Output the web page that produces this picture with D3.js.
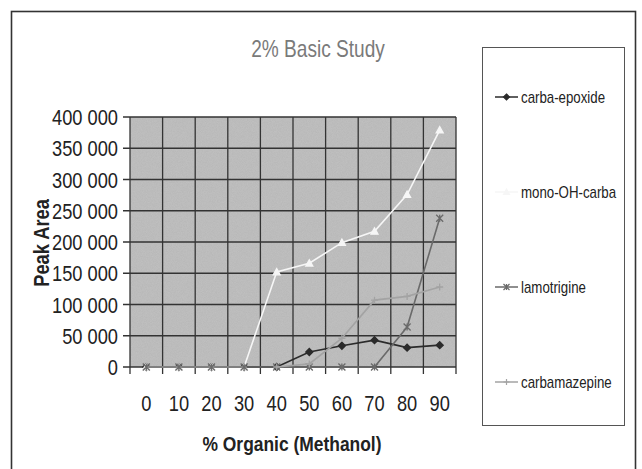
<!DOCTYPE html>
<html>
<head>
    <meta charset="utf-8">
    <title>2% Basic Study</title>
    <script src="https://cdn.jsdelivr.net/npm/d3@7"></script>
    <style>
        body {
            margin: 0;
            background: #fff;
        }

        text {
            font-family: "Liberation Sans", Arial, sans-serif;
        }
    </style>
</head>
<body>
    <div id="chart"></div>
    <script>
        // values
        const organic = ["0", "10", "20", "30", "40", "50", "60", "70", "80", "90"];
        const carbaEpoxide = [0, 0, 0, 0, 0, 24000, 34000, 43000, 31000, 35000];
        const monoOHCarba = [0, 0, 0, 0, 152000, 166000, 199000, 217000, 276000, 379000];
        const lamotrigine = [0, 0, 0, 0, 0, 0, 0, 0, 64000, 238000];
        const carbamazepine = [null, null, null, null, 0, 5000, 46000, 107000, 113000, 128000];
        const yTicks = [0, 50000, 100000, 150000, 200000, 250000, 300000, 350000, 400000];

        const seriesList = [
            { name: "carba-epoxide", values: carbaEpoxide, color: "#2b2b2b", marker: "diamond" },
            { name: "mono-OH-carba", values: monoOHCarba, color: "#f6f6f6", marker: "triangle" },
            { name: "lamotrigine", values: lamotrigine, color: "#6a6a6a", marker: "star" },
            { name: "carbamazepine", values: carbamazepine, color: "#a3a3a3", marker: "plus" }
        ];

        const width = 642;
        const height = 469;
        const plot = { left: 130, right: 456, top: 117, bottom: 367 };
        const squeeze = 0.83; // the scan's lettering is narrow

        const svg = d3.select("#chart")
            .append("svg")
            .attr("width", width)
            .attr("height", height);

        // outer frame
        svg.append("rect")
            .attr("x", 11.5)
            .attr("y", 11.5)
            .attr("width", 624)
            .attr("height", 470)
            .attr("fill", "#fff")
            .attr("stroke", "#333")
            .attr("stroke-width", 1.6);

        const x = d3.scaleBand()
            .domain(organic)
            .range([plot.left, plot.right])
            .padding(0);

        const y = d3.scaleLinear()
            .domain([0, 400000])
            .range([plot.bottom, plot.top]);

        const fmt = d3.formatLocale({ decimal: ",", thousands: " ", grouping: [3], currency: ["", ""] }).format(",d");

        // plot area with a grainy gray fill
        const defs = svg.append("defs");
        const noise = defs.append("filter")
            .attr("id", "grain")
            .attr("filterUnits", "userSpaceOnUse")
            .attr("x", plot.left)
            .attr("y", plot.top)
            .attr("width", plot.right - plot.left)
            .attr("height", plot.bottom - plot.top);
        noise.append("feTurbulence")
            .attr("type", "fractalNoise")
            .attr("baseFrequency", 1.2)
            .attr("numOctaves", 1)
            .attr("seed", 3);
        noise.append("feColorMatrix")
            .attr("type", "matrix")
            .attr("values", "0 0 0 0 0.25  0 0 0 0 0.25  0 0 0 0 0.25  0 0 0 0.35 0");

        svg.append("rect")
            .attr("x", plot.left)
            .attr("y", plot.top)
            .attr("width", plot.right - plot.left)
            .attr("height", plot.bottom - plot.top)
            .attr("fill", "#c2c2c2");

        svg.append("rect")
            .attr("x", plot.left)
            .attr("y", plot.top)
            .attr("width", plot.right - plot.left)
            .attr("height", plot.bottom - plot.top)
            .attr("filter", "url(#grain)")
            .attr("opacity", 0.6);

        // gridlines
        const bounds = organic.map(c => x(c)).concat([plot.right]);
        svg.append("g")
            .selectAll("line")
            .data(bounds)
            .join("line")
            .attr("x1", d => d)
            .attr("x2", d => d)
            .attr("y1", plot.top)
            .attr("y2", plot.bottom + 7)
            .attr("stroke", "#333")
            .attr("stroke-width", 1.3);

        svg.append("g")
            .selectAll("line")
            .data(yTicks)
            .join("line")
            .attr("x1", plot.left - 7)
            .attr("x2", plot.right)
            .attr("y1", d => y(d))
            .attr("y2", d => y(d))
            .attr("stroke", "#333")
            .attr("stroke-width", 1.3);

        // tick labels
        svg.append("g")
            .selectAll("text")
            .data(yTicks)
            .join("text")
            .attr("transform", d => `translate(118,${y(d) + 8}) scale(${squeeze},1)`)
            .attr("text-anchor", "end")
            .attr("font-size", 22)
            .attr("fill", "#222")
            .text(d => fmt(d));

        svg.append("g")
            .selectAll("text")
            .data(organic)
            .join("text")
            .attr("transform", d => `translate(${x(d) + x.bandwidth() / 2},411) scale(${squeeze},1)`)
            .attr("text-anchor", "middle")
            .attr("font-size", 22)
            .attr("fill", "#222")
            .text(d => d);

        // titles
        svg.append("text")
            .attr("transform", `translate(318,57) scale(${squeeze},1)`)
            .attr("text-anchor", "middle")
            .attr("font-size", 23)
            .attr("fill", "#7a7a7a")
            .text("2% Basic Study");

        svg.append("text")
            .attr("transform", `translate(292,451) scale(${squeeze},1)`)
            .attr("text-anchor", "middle")
            .attr("font-size", 21)
            .attr("font-weight", "bold")
            .attr("fill", "#222")
            .text("% Organic (Methanol)");

        svg.append("text")
            .attr("transform", `translate(49,243) rotate(-90) scale(${squeeze},1)`)
            .attr("text-anchor", "middle")
            .attr("font-size", 22)
            .attr("font-weight", "bold")
            .attr("fill", "#222")
            .text("Peak Area");

        // markers
        function markerPath(kind, s) {
            if (kind === "diamond") return `M0,${-s}L${s},0L0,${s}L${-s},0Z`;
            if (kind === "triangle") return `M0,${-s}L${s},${s * 0.8}L${-s},${s * 0.8}Z`;
            if (kind === "plus") return `M${-s},0H${s}M0,${-s}V${s}`;
            return `M${-s},${-s}L${s},${s}M${-s},${s}L${s},${-s}M0,${-s}V${s}`;
        }

        const line = d3.line()
            .defined(d => d.v !== null)
            .x(d => x(d.c) + x.bandwidth() / 2)
            .y(d => y(d.v));

        seriesList.forEach(s => {
            const pts = organic.map((c, i) => ({ c: c, v: s.values[i] }));
            const g = svg.append("g");
            g.append("path")
                .datum(pts)
                .attr("d", line)
                .attr("fill", "none")
                .attr("stroke", s.color)
                .attr("stroke-width", 1.6);
            g.selectAll("path.mk")
                .data(pts.filter(d => d.v !== null))
                .join("path")
                .attr("class", "mk")
                .attr("transform", d => `translate(${x(d.c) + x.bandwidth() / 2},${y(d.v)})`)
                .attr("d", markerPath(s.marker, 3.5))
                .attr("fill", s.marker === "diamond" || s.marker === "triangle" ? s.color : "none")
                .attr("stroke", s.color)
                .attr("stroke-width", 1.3);
        });

        // legend
        const legend = svg.append("g");
        legend.append("rect")
            .attr("x", 482.5)
            .attr("y", 47.5)
            .attr("width", 142)
            .attr("height", 378)
            .attr("fill", "#fff")
            .attr("stroke", "#555")
            .attr("stroke-width", 1);

        const legendY = [97, 192, 287, 382];
        seriesList.forEach((s, i) => {
            const ly = legendY[i];
            legend.append("line")
                .attr("x1", 495)
                .attr("x2", 518)
                .attr("y1", ly)
                .attr("y2", ly)
                .attr("stroke", s.color)
                .attr("stroke-width", 1.5);
            legend.append("path")
                .attr("transform", `translate(506.5,${ly})`)
                .attr("d", markerPath(s.marker, 3))
                .attr("fill", s.marker === "diamond" || s.marker === "triangle" ? s.color : "none")
                .attr("stroke", s.color)
                .attr("stroke-width", 1.2);
            legend.append("text")
                .attr("transform", `translate(521,${ly + 6}) scale(${squeeze},1)`)
                .attr("font-size", 16)
                .attr("fill", "#222")
                .text(s.name);
        });
    </script>
</body>
</html>
